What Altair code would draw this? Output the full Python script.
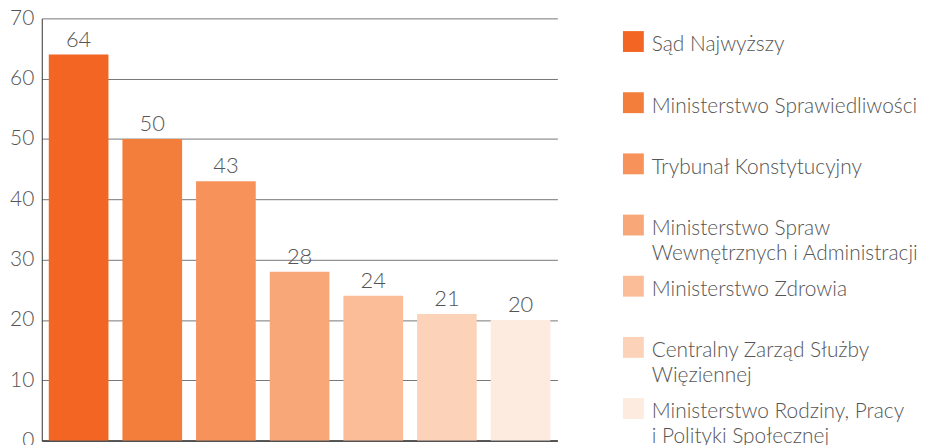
import altair as alt
import pandas as pd

names = [
    "Sąd Najwyższy",
    "Ministerstwo Sprawiedliwości",
    "Trybunał Konstytucyjny",
    "Ministerstwo Spraw\nWewnętrznych i Administracji",
    "Ministerstwo Zdrowia",
    "Centralny Zarząd Służby\nWięziennej",
    "Ministerstwo Rodziny, Pracy\ni Polityki Społecznej",
]
values = [64, 50, 43, 28, 24, 21, 20]
colors = ["#F26522", "#F37D3A", "#F6925A", "#F8A878", "#FABD97", "#FCD3B8", "#FEEBDF"]

df = pd.DataFrame({"name": names, "value": values, "color": colors})

FONT = "Lato"
TXT = "#555555"

x_enc = alt.X("name:N", sort=names, axis=alt.Axis(labels=False, ticks=False, title=None,
              grid=False, domainColor="#333333", domainWidth=1.5),
              scale=alt.Scale(paddingInner=0.19, paddingOuter=0.095))

bars = alt.Chart(df).mark_bar().encode(
    x=x_enc,
    y=alt.Y("value:Q", scale=alt.Scale(domain=[0, 70]),
            axis=alt.Axis(values=[0, 10, 20, 30, 40, 50, 60, 70], ticks=False, title=None,
                          grid=True, labelFont=FONT, labelFontWeight=300, labelFontSize=21,
                          labelColor=TXT, labelPadding=8, domainColor="#333333",
                          gridColor="#777777", gridWidth=1)),
    color=alt.Color("color:N", scale=None),
)

labels = alt.Chart(df).mark_text(
    baseline="bottom", dy=-3, font=FONT, fontWeight=300, fontSize=22, color=TXT
).encode(
    x=alt.X("name:N", sort=names),
    y=alt.Y("value:Q"),
    text=alt.Text("value:Q"),
)

barchart = alt.layer(bars, labels).properties(width=519, height=425)

y_leg = alt.Y("name:N", sort=names, axis=None,
              scale=alt.Scale(paddingInner=0, paddingOuter=0))

leg_sq = alt.Chart(df).mark_point(shape="square", size=441, filled=True, opacity=1,
                                  yOffset=-7.5).encode(
    x=alt.value(10.5),
    y=y_leg,
    color=alt.Color("color:N", scale=None),
)
leg_txt = alt.Chart(df).mark_text(
    align="left", baseline="top", dy=-7, yOffset=-7.5, lineBreak="\n", lineHeight=25,
    font=FONT, fontWeight=300, fontSize=21, color=TXT
).encode(
    x=alt.value(29),
    y=y_leg,
    text="name:N",
)
legend = alt.layer(leg_sq, leg_txt).properties(width=290, height=431)

chart = alt.hconcat(barchart, legend, spacing=66).properties(
    padding={"left": 1, "top": -2, "right": 0, "bottom": 0}
).configure_view(stroke=None)

chart.save("out.html", embed_options={"renderer": "svg", "actions": False})
